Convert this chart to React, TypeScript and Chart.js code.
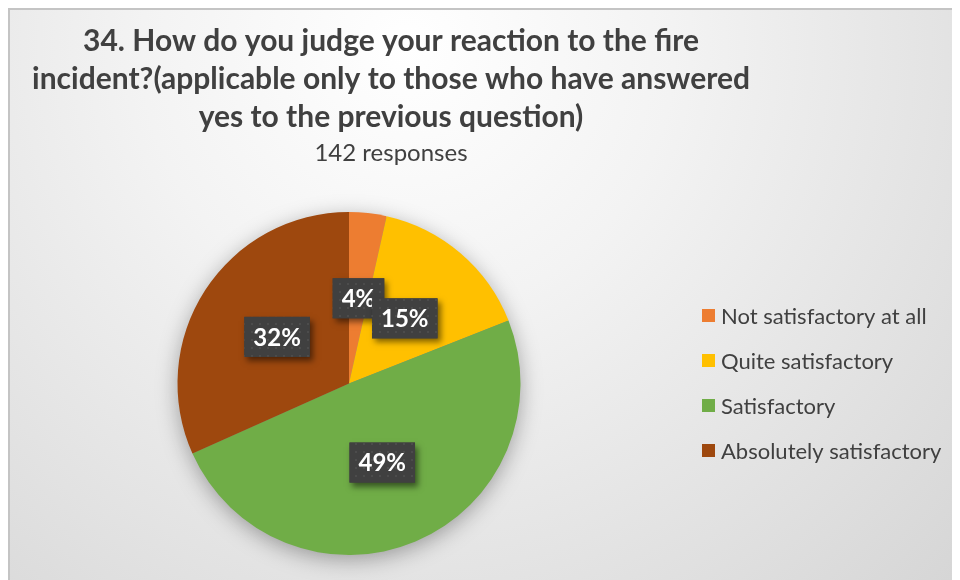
import React, { useEffect, useRef } from "react";
import { Chart, registerables } from "chart.js";

Chart.register(...registerables);

const categories = [
  "Not satisfactory at all",
  "Quite satisfactory",
  "Satisfactory",
  "Absolutely satisfactory",
];
const responses = [5, 22, 70, 45];
const percentLabels = ["4%", "15%", "49%", "32%"];
const sliceColors = ["#ED7D31", "#FFC000", "#70AD47", "#9E480E"];
const titleLines = [
  "34. How do you judge your reaction to the fire",
  "incident?(applicable only to those who have answered",
  "yes to the previous question)",
];
const subtitleText = "142 responses";

const FONT = "Lato, 'Open Sans', sans-serif";
const TEXT_COLOR = "#404040";

function makePattern(ctx: CanvasRenderingContext2D) {
  const c = document.createElement("canvas");
  c.width = 8;
  c.height = 8;
  const p = c.getContext("2d")!;
  p.fillStyle = "#404040";
  p.fillRect(0, 0, 8, 8);
  p.fillStyle = "#4c4c4c";
  p.fillRect(3, 3, 2, 2);
  return ctx.createPattern(c, "repeat");
}

const decorPlugin = {
  id: "decor",
  beforeDraw(chart: any) {
    const { ctx, width, height } = chart;
    ctx.save();
    const g = ctx.createRadialGradient(400, 40, 0, 400, 40, 760);
    g.addColorStop(0, "#ffffff");
    g.addColorStop(0.35, "#f3f3f3");
    g.addColorStop(1, "#d6d6d6");
    ctx.fillStyle = g;
    ctx.fillRect(0, 0, width, height);
    ctx.strokeStyle = "#c4c4c4";
    ctx.lineWidth = 2;
    ctx.beginPath();
    ctx.moveTo(1, height);
    ctx.lineTo(1, 1);
    ctx.lineTo(width, 1);
    ctx.stroke();

    // title
    ctx.fillStyle = TEXT_COLOR;
    ctx.textAlign = "center";
    ctx.textBaseline = "alphabetic";
    ctx.font = `bold 30px ${FONT}`;
    const cx = 383;
    titleLines.forEach((line, i) => {
      ctx.fillText(line, cx, 43 + i * 38);
    });
    ctx.font = `24px ${FONT}`;
    ctx.fillText(subtitleText, cx, 153);

    // legend
    ctx.textAlign = "left";
    ctx.font = `22px ${FONT}`;
    categories.forEach((label, i) => {
      const cy = 308 + i * 45;
      ctx.fillStyle = sliceColors[i];
      ctx.fillRect(694, cy - 7, 13, 13);
      ctx.fillStyle = TEXT_COLOR;
      ctx.fillText(label, 713, cy + 8);
    });
    ctx.restore();
  },
  beforeDatasetsDraw(chart: any) {
    const meta = chart.getDatasetMeta(0);
    const arc = meta.data[0];
    if (!arc) return;
    const { ctx } = chart;
    ctx.save();
    ctx.shadowColor = "rgba(0,0,0,0.35)";
    ctx.shadowBlur = 22;
    ctx.shadowOffsetY = 5;
    ctx.fillStyle = "#888";
    ctx.beginPath();
    ctx.arc(arc.x, arc.y, arc.outerRadius - 1, 0, Math.PI * 2);
    ctx.fill();
    ctx.restore();
  },
  afterDatasetsDraw(chart: any) {
    const { ctx } = chart;
    const meta = chart.getDatasetMeta(0);
    const pattern = makePattern(ctx);
    ctx.save();
    ctx.font = `bold 24px ${FONT}`;
    ctx.textAlign = "center";
    ctx.textBaseline = "middle";
    meta.data.forEach((el: any, i: number) => {
      const pos = el.tooltipPosition();
      const text = percentLabels[i];
      const tw = ctx.measureText(text).width;
      const w = tw + 18;
      const h = 40;
      const x = pos.x - w / 2;
      const y = pos.y - h / 2;
      ctx.save();
      ctx.shadowColor = "rgba(0,0,0,0.5)";
      ctx.shadowBlur = 6;
      ctx.shadowOffsetX = 3;
      ctx.shadowOffsetY = 4;
      ctx.fillStyle = "#404040";
      ctx.fillRect(x, y, w, h);
      ctx.restore();
      ctx.fillStyle = pattern || "#404040";
      ctx.fillRect(x, y, w, h);
      ctx.fillStyle = "#ffffff";
      ctx.fillText(text, pos.x, pos.y + 1);
    });
    ctx.restore();
  },
};

export default function App() {
  const ref = useRef<HTMLCanvasElement | null>(null);
  useEffect(() => {
    if (!ref.current) return;
    const chart = new Chart(ref.current, {
      type: "pie",
      data: {
        labels: categories,
        datasets: [
          {
            data: responses,
            backgroundColor: sliceColors,
            borderWidth: 0,
          },
        ],
      },
      options: {
        responsive: false,
        animation: false,
        devicePixelRatio: 1,
        layout: { padding: { left: 169, right: 439, top: 204, bottom: 25 } },
        plugins: {
          legend: { display: false },
          tooltip: { enabled: false },
          title: { display: false },
        },
      },
      plugins: [decorPlugin],
    });
    return () => chart.destroy();
  }, []);
  return (
    <canvas
      ref={ref}
      width={952}
      height={572}
      style={{ display: "block", width: 952, height: 572 }}
    />
  );
}
